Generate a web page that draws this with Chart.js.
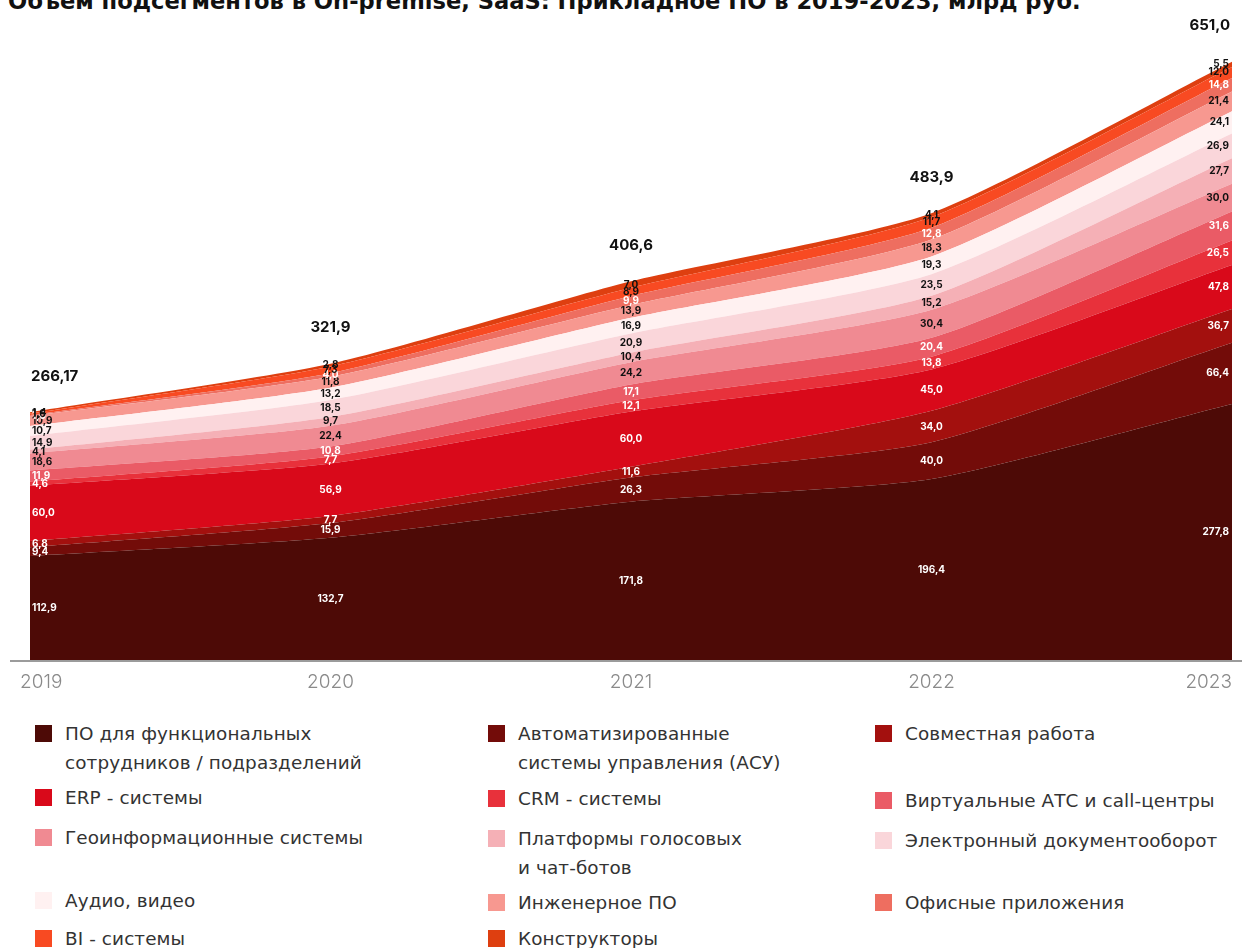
<!DOCTYPE html>
<html>
<head>
<meta charset="utf-8">
<script src="https://cdn.jsdelivr.net/npm/chart.js@4/dist/chart.umd.min.js"></script>
<style>
  html,body{margin:0;padding:0;background:#fff;width:1242px;height:948px;overflow:hidden;}
  #title{position:absolute;left:8px;top:-12px;font-family:"DejaVu Sans",sans-serif;font-weight:700;font-size:22.6px;color:#111;white-space:nowrap;letter-spacing:0px;}
  #wrap{position:absolute;left:0;top:0;width:1242px;height:700px;}
  .lg{position:absolute;font-family:"DejaVu Sans",sans-serif;font-size:18.4px;line-height:29px;color:#333;letter-spacing:0.1px;}
  .sw{position:absolute;width:17px;height:17px;}
</style>
</head>
<body>
<div id="title">Объем подсегментов в On-premise, SaaS: Прикладное ПО в 2019-2023, млрд руб.</div>
<div id="wrap"><canvas id="c" width="1242" height="700"></canvas></div>
<div id="legend"></div>
<script>
const categories = ['2019','2020','2021','2022','2023'];
const totalLabels = ['266,17','321,9','406,6','483,9','651,0'];

const seriesNames = [
  'ПО для функциональных\nсотрудников / подразделений',
  'Автоматизированные\nсистемы управления (АСУ)',
  'Совместная работа',
  'ERP - системы',
  'CRM - системы',
  'Виртуальные АТС и call-центры',
  'Геоинформационные системы',
  'Платформы голосовых\nи чат-ботов',
  'Электронный документооборот',
  'Аудио, видео',
  'Инженерное ПО',
  'Офисные приложения',
  'BI - системы',
  'Конструкторы'
];

const poFunc      = [112.9, 132.7, 171.8, 196.4, 277.8];
const asu         = [9.4, 15.9, 26.3, 40.0, 66.4];
const collab      = [6.8, 7.7, 11.6, 34.0, 36.7];
const erp         = [60.0, 56.9, 60.0, 45.0, 47.8];
const crm         = [4.6, 7.7, 12.1, 13.8, 26.5];
const virtPbx     = [11.9, 10.8, 17.1, 20.4, 31.6];
const geo         = [18.6, 22.4, 24.2, 30.4, 30.0];
const voiceBots   = [4.1, 9.7, 10.4, 15.2, 27.7];
const edo         = [14.9, 18.5, 20.9, 23.5, 26.9];
const audioVideo  = [10.7, 13.2, 16.9, 19.3, 24.1];
const engineering = [10.9, 11.8, 13.9, 18.3, 21.4];
const office      = [1.0, 4.0, 9.9, 12.8, 14.8];
const bi          = [1.6, 7.3, 8.9, 11.7, 12.0];
const builders    = [1.4, 2.8, 7.0, 4.1, 5.5];

const seriesValues = [poFunc, asu, collab, erp, crm, virtPbx, geo, voiceBots, edo, audioVideo, engineering, office, bi, builders];

const colors = ['#4d0a06','#730c09','#a3100e','#d9091a','#e8313b','#ea5b66','#f08a92','#f5b0b6','#fad6da','#fff1f1','#f79890','#ee6e60','#f84a22','#de3f10'];
const labelColors = ['#fff','#fff','#fff','#fff','#fff','#fff','#111','#111','#111','#111','#111','#fff','#111','#111'];

const legendPos = [
  [35,733],[488,733],[875,733],
  [35,797],[488,798],[875,800],
  [35,837],[488,838],[875,840],
  [35,900],[488,902],[875,902],
  [35,938],[488,938]
];

const datasets = seriesNames.map((name,i)=>({
  label: name.replace('\n',' '),
  data: seriesValues[i],
  backgroundColor: colors[i],
  borderColor: colors[i],
  borderWidth: 0,
  pointRadius: 0,
  fill: i===0 ? 'origin' : '-1',
  tension: 0.2
}));

const fmt = v => v.toFixed(1).replace('.', ',');

const overlay = {
  id:'overlay',
  afterDatasetsDraw(chart){
    const ctx = chart.ctx;
    const ys = chart.scales.y, xs = chart.scales.x;
    const n = categories.length;
    const base = ys.getPixelForValue(0);
    ctx.save();
    ctx.strokeStyle = '#9b9b9b';
    ctx.lineWidth = 2;
    ctx.beginPath(); ctx.moveTo(10, base+1); ctx.lineTo(1242, base+1); ctx.stroke();
    ctx.font = 'bold 10px Inter, sans-serif';
    ctx.textBaseline = 'middle';
    chart.data.datasets.forEach((ds,i)=>{
      const meta = chart.getDatasetMeta(i);
      const prev = i>0 ? chart.getDatasetMeta(i-1) : null;
      meta.data.forEach((pt,j)=>{
        const yBot = prev ? prev.data[j].y : base;
        const y = (pt.y + yBot)/2;
        let x = pt.x;
        if (j===0){ctx.textAlign='left'; x += 2;}
        else if (j===n-1){ctx.textAlign='right'; x -= 3;}
        else ctx.textAlign='center';
        ctx.fillStyle = labelColors[i];
        ctx.fillText(fmt(ds.data[j]), x, y);
      });
    });
    const last = chart.getDatasetMeta(chart.data.datasets.length-1);
    ctx.font = 'bold 15px Inter, sans-serif';
    ctx.fillStyle = '#111';
    last.data.forEach((pt,j)=>{
      let x = pt.x;
      if (j===0){ctx.textAlign='left'; x += 1;}
      else if (j===n-1){ctx.textAlign='right'; x -= 2;}
      else ctx.textAlign='center';
      ctx.fillText(totalLabels[j], x, pt.y - 36);
    });
    ctx.font = '300 19px Inter, sans-serif';
    ctx.fillStyle = '#8a8a8a';
    categories.forEach((c,j)=>{
      let x = xs.getPixelForValue(j);
      if (j===0){ctx.textAlign='left'; x -= 10;}
      else if (j===n-1){ctx.textAlign='right';}
      else ctx.textAlign='center';
      ctx.fillText(c, x, base + 22);
    });
    ctx.restore();
  }
};

new Chart(document.getElementById('c'), {
  type:'line',
  data:{labels:categories, datasets},
  options:{
    responsive:false,
    animation:false,
    layout:{padding:{left:30,right:10,top:15,bottom:40}},
    plugins:{legend:{display:false},tooltip:{enabled:false}},
    scales:{
      x:{display:false},
      y:{display:false,stacked:true,min:0,max:700}
    }
  },
  plugins:[overlay]
});

const lg = document.getElementById('legend');
seriesNames.forEach((name,i)=>{
  const [lx,cy] = legendPos[i];
  const sw = document.createElement('div');
  sw.className='sw';
  sw.style.left = lx+'px';
  sw.style.top = (cy-8)+'px';
  sw.style.background = colors[i];
  lg.appendChild(sw);
  const t = document.createElement('div');
  t.className='lg';
  t.style.left = (lx+30)+'px';
  t.style.top = (cy-14)+'px';
  t.innerHTML = name.split('\n').join('<br>');
  lg.appendChild(t);
});
</script>
</body>
</html>
